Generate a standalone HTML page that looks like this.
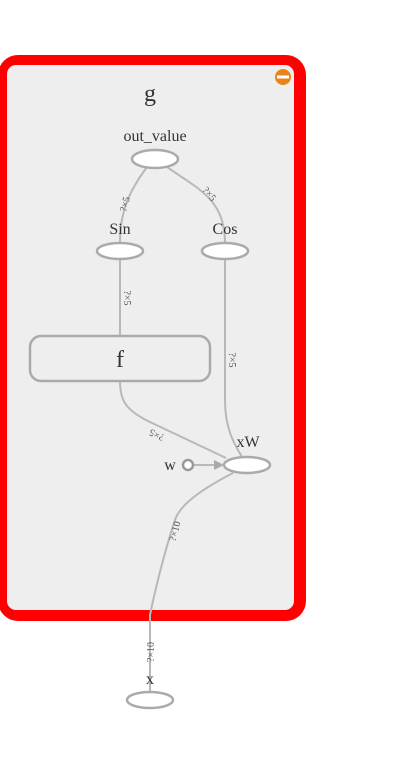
<!DOCTYPE html>
<html><head><meta charset="utf-8"><style>
html,body{margin:0;padding:0;background:#fff;width:420px;height:770px;overflow:hidden}
text{font-family:"Liberation Serif",serif;fill:#333}
.e{fill:none;stroke:#b8b8b8;stroke-width:2}
.n{fill:#fff;stroke:#aaa;stroke-width:2.5}
.l{font-size:10px;fill:#555}
</style></head><body>
<svg width="420" height="770">
<rect x="-2" y="55" width="308" height="566" rx="20" fill="#f00"/>
<rect x="7" y="65" width="287" height="545" rx="9" fill="#eee"/>
<circle cx="283" cy="77" r="8" fill="#e8841a"/>
<rect x="277" y="75.5" width="12" height="3" fill="#fff"/>
<text x="150" y="101" font-size="24" text-anchor="middle">g</text>

<path class="e" d="M147,167 C130,190 120,210 120,243"/>
<path class="e" d="M167,167 C200,190 225,200 225,243"/>
<path class="e" d="M120,259 L120,336"/>
<path class="e" d="M225,259 L225,400 C225,430 235,445 242,457"/>
<path class="e" d="M120,381 C120,400 125,410 150,422 L226,458"/>
<path class="e" d="M193,465 L214,465"/>
<polygon points="214,460 224,465 214,470" fill="#aaa"/>
<path class="e" d="M233,473 C200,490 180,505 175,520 C165,550 155,590 150,615 L150,692"/>

<text class="l" transform="translate(128,205) rotate(-75)" text-anchor="middle">?×5</text>
<text class="l" transform="translate(207,196) rotate(50)" text-anchor="middle">?×5</text>
<text class="l" transform="translate(124,298) rotate(90)" text-anchor="middle">?×5</text>
<text class="l" transform="translate(229,360) rotate(90)" text-anchor="middle">?×5</text>
<text class="l" transform="translate(158,432) rotate(205)" text-anchor="middle">?×5</text>
<text class="l" transform="translate(178,532) rotate(-75)" text-anchor="middle">?×10</text>
<text class="l" transform="translate(154,652) rotate(-90)" text-anchor="middle">?×10</text>

<ellipse class="n" cx="155" cy="159" rx="23" ry="9"/>
<text x="155" y="141" font-size="16" text-anchor="middle">out_value</text>
<ellipse class="n" cx="120" cy="251" rx="23" ry="8"/>
<text x="120" y="234" font-size="16" text-anchor="middle">Sin</text>
<ellipse class="n" cx="225" cy="251" rx="23" ry="8"/>
<text x="225" y="234" font-size="16" text-anchor="middle">Cos</text>
<rect x="30" y="336" width="180" height="45" rx="11" fill="#eee" stroke="#aaa" stroke-width="2.5"/>
<text x="120" y="367" font-size="24" text-anchor="middle">f</text>
<ellipse class="n" cx="247" cy="465" rx="23" ry="8"/>
<text x="248" y="447" font-size="16" text-anchor="middle">xW</text>
<circle cx="188" cy="465" r="5" fill="#fff" stroke="#999" stroke-width="2.5"/>
<text x="170" y="470" font-size="16" text-anchor="middle">w</text>
<ellipse class="n" cx="150" cy="700" rx="23" ry="8"/>
<text x="150" y="684" font-size="16" text-anchor="middle">x</text>
</svg>
</body></html>
